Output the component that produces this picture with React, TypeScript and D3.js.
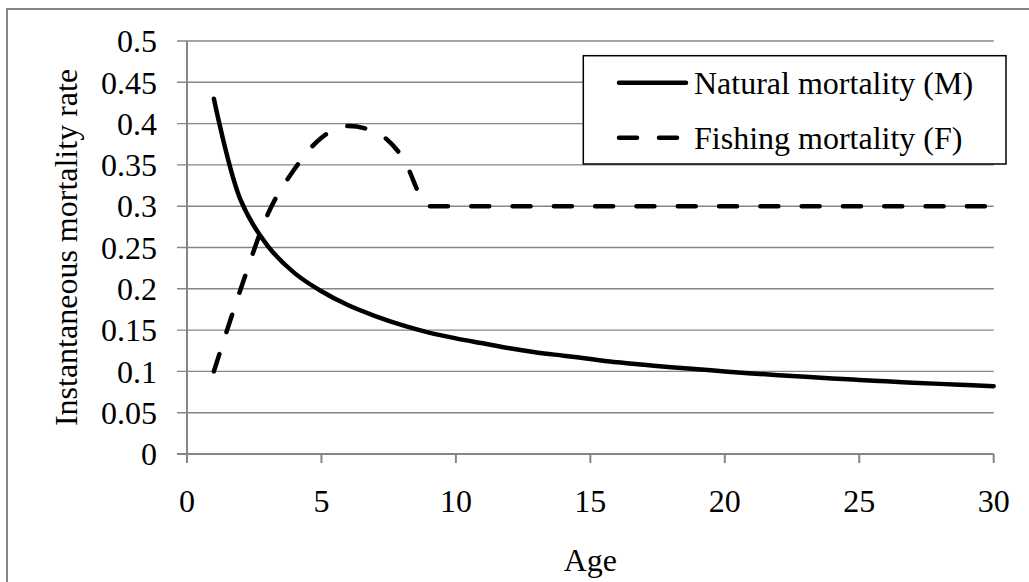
import React from "react";
import * as d3 from "d3";

const ages = [1,2,3,4,5,6,7,8,9,10,11,12,13,14,15,16,17,18,19,20,21,22,23,24,25,26,27,28,29,30];
const naturalM = [0.430,0.307,0.252,0.219,0.197,0.180,0.167,0.156,0.147,0.140,0.134,0.128,0.123,0.119,0.115,0.111,0.108,0.105,0.1025,0.100,0.0976,0.0954,0.0934,0.0915,0.0897,0.0880,0.0864,0.0849,0.0834,0.082];
const fishingF = [0.100,0.200,0.290,0.345,0.383,0.397,0.390,0.360,0.300,0.300,0.300,0.300,0.300,0.300,0.300,0.300,0.300,0.300,0.300,0.300,0.300,0.300,0.300,0.300,0.300,0.300,0.300,0.300,0.300,0.300];
const xTicks = [0,5,10,15,20,25,30];
const yTicks = [0,0.05,0.1,0.15,0.2,0.25,0.3,0.35,0.4,0.45,0.5];
const yTickLabels = ["0","0.05","0.1","0.15","0.2","0.25","0.3","0.35","0.4","0.45","0.5"];
const seriesNames = ["Natural mortality (M)", "Fishing mortality (F)"];

const W = 1029, H = 582;
const FONT = "'Liberation Serif', 'Times New Roman', serif";
const GRID = "#868686";

export default function App() {
  const x = d3.scaleLinear().domain([0, 30]).range([187, 993.7]);
  const y = d3.scaleLinear().domain([0, 0.5]).range([454, 41]);

  const mLine = d3.line<number>()
    .x((_, i) => x(ages[i]))
    .y((d) => y(d))
    .curve(d3.curveCatmullRom.alpha(0.5));
  const fLine = d3.line<number>()
    .x((_, i) => x(ages[i]))
    .y((d) => y(d))
    .curve(d3.curveMonotoneX);

  return (
    <svg width={W} height={H} style={{ position: "absolute", left: 0, top: 0, background: "#fff" }}>
      <rect x={0} y={0} width={W} height={H} fill="#fff" />
      <rect x={7} y={9} width={W + 20} height={H + 20} fill="none" stroke={GRID} strokeWidth={2} />
      {/* gridlines */}
      {yTicks.map((t, i) => (
        <line key={"g" + i} x1={x(0) - 10} x2={x(30)} y1={y(t)} y2={y(t)}
          stroke={GRID} strokeWidth={i === 0 ? 2 : 1.4} />
      ))}
      {/* axes */}
      <line x1={x(0)} x2={x(0)} y1={y(0.5)} y2={y(0)} stroke={GRID} strokeWidth={2} />
      {xTicks.map((t, i) => (
        <line key={"xt" + i} x1={x(t)} x2={x(t)} y1={y(0)} y2={y(0) + 9} stroke={GRID} strokeWidth={2} />
      ))}
      {/* tick labels */}
      {yTicks.map((t, i) => (
        <text key={"yl" + i} x={157} y={y(t)} dy="0.35em" textAnchor="end"
          fontFamily={FONT} fontSize={32} fill="#000">{yTickLabels[i]}</text>
      ))}
      {xTicks.map((t, i) => (
        <text key={"xl" + i} x={x(t)} y={511.5} textAnchor="middle"
          fontFamily={FONT} fontSize={32} fill="#000">{String(t)}</text>
      ))}
      {/* axis titles */}
      <text x={(x(0) + x(30)) / 2} y={571} textAnchor="middle" fontFamily={FONT} fontSize={32} fill="#000">Age</text>
      <text transform={`translate(76.7, ${(y(0) + y(0.5)) / 2}) rotate(-90)`} textAnchor="middle"
        fontFamily={FONT} fontSize={32} fill="#000">Instantaneous mortality rate</text>
      {/* series */}
      <path d={mLine(naturalM) || ""} fill="none" stroke="#000" strokeWidth={4.5} strokeLinecap="round" strokeLinejoin="round" />
      <path d={fLine(fishingF) || ""} fill="none" stroke="#000" strokeWidth={4.5} strokeLinecap="round"
        strokeDasharray="18 23.3" />
      {/* legend */}
      <rect x={583.3} y={55.7} width={422.7} height={108.3} fill="#fff" stroke="#000" strokeWidth={1.5} />
      <line x1={619} x2={686} y1={82.7} y2={82.7} stroke="#000" strokeWidth={4.5} strokeLinecap="round" />
      <text x={694} y={93.5} fontFamily={FONT} fontSize={32} fill="#000">{seriesNames[0]}</text>
      <line x1={619} x2={679} y1={137.7} y2={137.7} stroke="#000" strokeWidth={4.5} strokeLinecap="round" strokeDasharray="18 22" />
      <text x={694} y={148.5} fontFamily={FONT} fontSize={32} fill="#000">{seriesNames[1]}</text>
    </svg>
  );
}
